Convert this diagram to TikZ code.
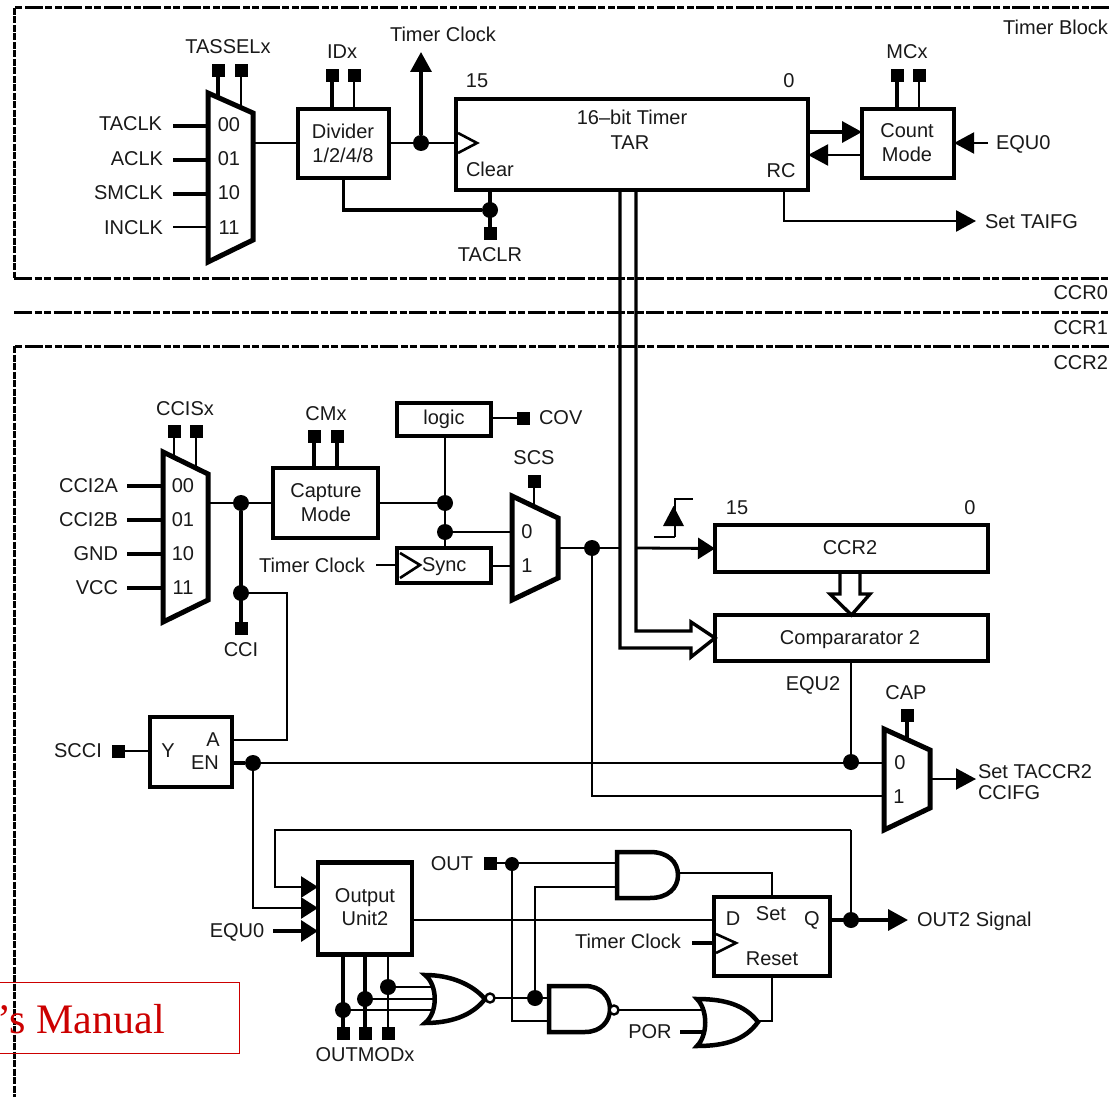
\documentclass[tikz,border=0pt]{standalone}
\usepackage{fontspec}
\setmainfont{Liberation Sans}
\newfontfamily\serifred{Liberation Serif}
\usetikzlibrary{arrows.meta,calc}
\definecolor{inkc}{RGB}{25,25,25}
\definecolor{redc}{RGB}{204,0,0}
\tikzset{
  block/.style={draw=black,line width=4.5pt,fill=white,rectangle,inner sep=0pt,outer sep=0pt},
  gatef/.style={draw=black,line width=4.5pt,fill=white,line join=miter},
  muxf/.style={draw=black,line width=5pt,fill=white,line join=miter},
  pinb/.style={fill=black,rectangle,inner sep=0pt,outer sep=0pt,minimum size=13pt},
  joint/.style={fill=black,circle,inner sep=0pt,outer sep=0pt,minimum size=16pt},
  jointsm/.style={fill=black,circle,inner sep=0pt,outer sep=0pt,minimum size=14pt},
  bub/.style={draw=black,line width=2.4pt,fill=white,circle,inner sep=0pt,outer sep=0pt,minimum size=9pt},
  wthin/.style={draw=black,line width=2pt},
  wmid/.style={draw=black,line width=2.8pt},
  wthick/.style={draw=black,line width=3.4pt},
  headf/.style={-{Triangle[length=20pt,width=21pt]}},
  heads/.style={-{Triangle[length=17pt,width=21pt]}},
  border/.style={draw=black,line width=3pt,dash pattern=on 18pt off 2.5pt on 7pt off 2.5pt on 7pt off 2.5pt},
  borderv/.style={draw=black,line width=3pt,dash pattern=on 7pt off 1.5pt},
  clk/.style={draw=black,line width=2.6pt,fill=white,line join=miter},
  txt/.style={text=inkc,inner sep=0pt,outer sep=0pt,font=\fontsize{20}{23}\selectfont},
  txo/.style={txt,text height=14pt,text depth=0pt},
}
\newcommand{\txc}[4]{\node[txo,anchor=center] (#1) at (#2,#3) {#4};}
\newcommand{\txl}[4]{\node[txo,anchor=west] (#1) at (#2,#3) {#4};}
\newcommand{\txr}[4]{\node[txo,anchor=east] (#1) at (#2,#3) {#4};}
\newcommand{\mkpin}[3]{\node[pinb] (#1) at (#2,#3) {};}
\newcommand{\mkdot}[3]{\node[joint] (#1) at (#2,#3) {};}
\newcommand{\mkdots}[3]{\node[jointsm] (#1) at (#2,#3) {};}
\newcommand{\mkbox}[5]{\node[block,minimum width=#4pt,minimum height=#5pt] (#1) at (#2,#3) {};}
\begin{document}
\begin{tikzpicture}[x=1pt,y=-1pt]
\useasboundingbox (0,0) rectangle (1109,1097);
% borders
\draw[border] (1109,8) -- (14,8);
\draw[borderv] (14,8) -- (14,278);
\draw[border] (14,278) -- (1109,278);
\draw[border] (14,312) -- (1109,312);
\draw[border] (1109,346) -- (14,346);
\draw[borderv] (14,346) -- (14,1097);
\txr{tblock}{1108}{28}{Timer Block}
\txr{ccr0}{1108}{292}{CCR0}
\txr{ccr1}{1108}{327}{CCR1}
\txr{ccr2l}{1108}{362}{CCR2}

% ---- timer block
\coordinate (m1a) at (208,93); \coordinate (m1b) at (253,113);
\coordinate (m1c) at (253,240); \coordinate (m1d) at (208,262);
\mkpin{ps1}{218}{71}\mkpin{ps2}{241}{71}
\draw[wthick] (ps1) -- (ps1 |- m1b);
\draw[wmid] (ps2) -- (ps2 |- m1b);
\draw[muxf] (m1a) -- (m1b) -- (m1c) -- (m1d) -- cycle;
\txc{tassel}{228}{47}{TASSELx}
\txr{taclk}{162}{124}{TACLK}
\txr{aclk}{163}{159}{ACLK}
\txr{smclk}{163}{193}{SMCLK}
\txr{inclk}{163}{227}{INCLK}
\coordinate (i1) at (173,126); \coordinate (i2) at (173,160); \coordinate (i3) at (173,194); \coordinate (i4) at (173,227);
\draw[wthick] (i1) -- (i1 -| m1a);
\draw[wthick] (i2) -- (i2 -| m1a);
\draw[wthick] (i3) -- (i3 -| m1a);
\draw[wmid] (i4) -- (i4 -| m1a);
\txc{m1t0}{229}{125}{00}\txc{m1t1}{229}{159}{01}\txc{m1t2}{229}{193}{10}\txc{m1t3}{229}{227}{11}

\mkbox{divb}{343.5}{143.5}{91}{69}
\node[txt,align=center,anchor=center] (divt) at (343,143) {Divider\\[1pt]1/2/4/8};
\txc{idx}{342}{52}{IDx}
\mkpin{pi1}{332}{76}\mkpin{pi2}{354}{76}
\draw[wthick] (pi1) -- (pi1 |- divb.north);
\draw[wthin] (pi2) -- (pi2 |- divb.north);
\coordinate (m1o) at (253,143);
\draw[wthin] (m1o) -- (divb.west |- m1o);

\mkbox{tar}{632}{144.5}{352}{91}
\txc{tarbit}{632}{118}{16--bit Timer}
\txc{tarn}{630}{143}{TAR}
\txc{t15}{477}{81}{15}\txc{t0}{789}{81}{0}
\txl{clear}{466}{170}{Clear}
\txc{rc}{781}{171}{RC}
\coordinate (tclk) at (421,52);
\mkdot{d1}{421}{143}
\draw[wthin] (divb.east |- d1) -- (tar.west |- d1);
\draw[wthick,headf] (d1) -- (tclk);
\txc{tclkt}{443}{35}{Timer Clock}
\draw[clk] (458,133) -- (477,143) -- (458,153);

\mkbox{cnt}{908}{143.5}{92}{69}
\node[txt,align=center,anchor=center] (cntt) at (907,143) {Count\\[1pt]Mode};
\txc{mcx}{907}{52}{MCx}
\mkpin{pm1}{897}{76}\mkpin{pm2}{919}{76}
\draw[wthick] (pm1) -- (pm1 |- cnt.north);
\draw[wthin] (pm2) -- (pm2 |- cnt.north);
\coordinate (arr1) at (808,132); \coordinate (arr2) at (808,155);
\draw[wthick,headf] (arr1) -- (cnt.west |- arr1);
\draw[wthin,headf] (cnt.west |- arr2) -- (arr2);
\txl{equ0a}{996}{143}{EQU0}
\coordinate (e0) at (988,143);
\draw[wthin,headf] (e0) -- (cnt.east |- e0);

\coordinate (rcbot) at (784,221);
\coordinate (taifgend) at (976,221);
\txl{taifg}{985}{221}{Set TAIFG}
\draw[wmid,headf] (rcbot |- tar.south) -- (rcbot) -- (taifgend);

\mkpin{pclr}{490}{233}
\txc{taclr}{490}{254}{TACLR}
\mkdot{dclr}{490}{210}
\draw[wthick] (tar.south -| pclr) -- (pclr);
\draw[wthick] (divb.south) |- (dclr);

% ---- bus
\mkbox{ccrb}{851.5}{548.5}{273}{47}
\mkbox{cmpb}{851.5}{638}{273}{46}
\txc{ccrt}{850}{547}{CCR2}
\txc{cmpt}{850}{637}{Compararator 2}
\txc{c15}{737}{507}{15}\txc{c0}{970}{507}{0}
\coordinate (bi1) at (636,631); \coordinate (bo1) at (620,648);
\draw[wthick,line join=miter] (bi1 |- tar.south) -- (bi1) -- (691,631) -- (691,622) -- (cmpb.west) -- (691,657) -- (691,648) -- (bo1) -- (bo1 |- tar.south);
\draw[wthick,line join=miter] (840,572) -- (840,594) -- (830,594) -- (cmpb.north) -- (870,594) -- (860,594) -- (860,572);

% ---- CCISx mux
\coordinate (m2a) at (163,452); \coordinate (m2b) at (208,474);
\coordinate (m2c) at (208,600); \coordinate (m2d) at (163,622);
\mkpin{pc1}{174}{431}\mkpin{pc2}{196}{431}
\draw[wthin] (pc1) -- (pc1 |- m2b);
\draw[wthin] (pc2) -- (pc2 |- m2b);
\draw[muxf] (m2a) -- (m2b) -- (m2c) -- (m2d) -- cycle;
\txc{ccis}{185}{408}{CCISx}
\txr{cci2a}{118}{485}{CCI2A}
\txr{cci2b}{118}{519}{CCI2B}
\txr{gnd}{118}{553}{GND}
\txr{vcc}{118}{587}{VCC}
\coordinate (j1) at (127,486); \coordinate (j2) at (127,520); \coordinate (j3) at (127,554); \coordinate (j4) at (127,588);
\draw[wthick] (j1) -- (j1 -| m2a);
\draw[wthick] (j2) -- (j2 -| m2a);
\draw[wthick] (j3) -- (j3 -| m2a);
\draw[wthick] (j4) -- (j4 -| m2a);
\txc{m2t0}{183}{485}{00}\txc{m2t1}{183}{519}{01}\txc{m2t2}{183}{553}{10}\txc{m2t3}{183}{587}{11}

\mkbox{capb}{325.5}{503}{105}{70}
\node[txt,align=center,anchor=center] (capt) at (326,503) {Capture\\[1pt]Mode};
\txc{cmx}{326}{413}{CMx}
\mkpin{pc3}{314}{436}\mkpin{pc4}{337}{436}
\draw[wthick] (pc3) -- (pc3 |- capb.north);
\draw[wthick] (pc4) -- (pc4 |- capb.north);
\mkdot{d2}{241}{503}
\mkdot{d3}{241}{593}
\mkpin{pcci}{241}{628}
\txc{ccit}{241}{649}{CCI}
\coordinate (m2o) at (208,503);
\draw[wthin] (m2o) -- (capb.west |- m2o);
\draw[wthick] (d2) -- (pcci);

\mkbox{logb}{444}{419.5}{94}{33}
\txc{logt}{444}{417}{logic}
\mkpin{pcov}{523}{418}
\txl{cov}{539}{417}{COV}
\draw[wthin] (logb.east |- pcov) -- (pcov);
\mkbox{synb}{444}{565.5}{94}{35}
\txl{synt}{422}{564}{Sync}
\draw[clk] (400,553) -- (420,565) -- (400,578);
\txc{tclkb}{312}{565}{Timer Clock}
\coordinate (tcin) at (376,565);
\draw[wthin] (tcin) -- (synb.west |- tcin);
\mkdot{d4}{445}{503}
\mkdot{d5}{445}{532}
\draw[wthin] (capb.east |- d4) -- (d4);
\draw[wthin] (logb.south -| d4) -- (synb.north -| d4);

% SCS mux
\coordinate (m3a) at (512,496); \coordinate (m3b) at (558,518);
\coordinate (m3c) at (558,578); \coordinate (m3d) at (512,600);
\mkpin{pscs}{534}{481}
\txc{scs}{534}{457}{SCS}
\draw[wthin] (pscs) -- (pscs |- m3b);
\draw[muxf] (m3a) -- (m3b) -- (m3c) -- (m3d) -- cycle;
\txc{m3t0}{527}{531}{0}\txc{m3t1}{527}{565}{1}
\draw[wthin] (d5) -- (d5 -| m3a);
\draw[wthin] (synb.east) -- (synb.east -| m3a);
\mkdot{d6}{592}{548}
\coordinate (m3o) at (558,548);
\coordinate (busl) at (619,548); \coordinate (busr) at (637,548);
\draw[wmid] (m3o) -- (busl);
\draw[wmid,heads] (busr) -- (ccrb.west);

% edge symbol
\coordinate (eg1) at (654,537); \coordinate (eg2) at (675,537);
\coordinate (eg3) at (675,499); \coordinate (eg4) at (693,499);
\draw[wmid,line join=miter] (eg1) -- (eg2);
\draw[wthin,line join=miter] (eg2) -- (eg3) -- (eg4);
\fill[black] (663,526) -- (684,526) -- (673.5,506) -- cycle;

% SCCI
\mkbox{yen}{191}{752}{82}{70}
\txc{yt}{168}{750}{Y}\txc{at}{213}{739}{A}\txc{ent}{205}{762}{EN}
\mkpin{pscci}{118}{751}
\txc{sccit}{78}{750}{SCCI}
\draw[wthin] (pscci) -- (yen.west |- pscci);
\coordinate (a1) at (287,740);
\draw[wthin] (d3) -| (a1) -- (yen.east |- a1);
\mkdot{d7}{253}{763}
\draw[wthick] (yen.east |- d7) -- (d7);

% CAP mux
\coordinate (m4a) at (884,729); \coordinate (m4b) at (930,750);
\coordinate (m4c) at (930,808); \coordinate (m4d) at (884,830);
\mkpin{pcap}{907}{715}
\txc{cap}{906}{692}{CAP}
\draw[wthick] (pcap) -- (pcap |- m4b);
\draw[muxf] (m4a) -- (m4b) -- (m4c) -- (m4d) -- cycle;
\txc{m4t0}{900}{762}{0}\txc{m4t1}{899}{796}{1}
\mkdot{d8}{851}{762}
\txc{equ2}{813}{683}{EQU2}
\draw[wthin] (cmpb.south -| d8) -- (d8);
\draw[wmid] (d7) -- (d7 -| m4a);
\coordinate (m4i) at (884,796);
\draw[wmid] (d6) |- (m4i);
\coordinate (m4o) at (930,779); \coordinate (m4e) at (976,779);
\draw[wthin,headf] (m4o) -- (m4e);
\node[txt,align=left,anchor=west] (setcc) at (978,782) {Set TACCR2\\[-2pt]CCIFG};

% Output unit
\mkbox{outb}{365}{908.5}{94}{92}
\node[txt,align=center,anchor=center] (outt) at (365,907) {Output\\Unit2};
\coordinate (fb1) at (275,830); \coordinate (fb2) at (275,887);
\coordinate (e1) at (253,908); \coordinate (e3) at (273,931);
\coordinate (fb3) at (851,830);
\mkdot{d9}{851}{920}
\draw[wmid,heads] (fb3) -- (fb1) -- (fb2) -- (outb.west |- fb2);
\draw[wthin] (d9) -- (fb3);
\draw[wmid,heads] (d7) -- (e1) -- (outb.west |- e1);
\txc{equ0b}{237}{930}{EQU0}
\draw[wthick,heads] (e3) -- (outb.west |- e3);

% Latch
\mkbox{latb}{772}{936.5}{116}{79}
\txc{dt}{733}{918}{D}\txc{sett}{771}{913}{Set}\txc{qt}{812}{918}{Q}\txc{rst}{772}{958}{Reset}
\draw[clk] (716,934) -- (736,943) -- (716,953);
\txc{tclkc}{628}{941}{Timer Clock}
\coordinate (tc2) at (692,943);
\draw[wthick] (tc2) -- (latb.west |- tc2);
\draw[wmid] (outb.east |- d9) -- (latb.west |- d9);
\coordinate (o2e) at (908,920);
\draw[wthick,headf] (latb.east |- d9) -- (o2e);
\txl{o2t}{917}{919}{OUT2 Signal}

% OUT and gates
\mkpin{pout}{490}{863}
\txc{outl}{452}{863}{OUT}
\mkdots{d10}{512}{864}
\draw[wthin] (pout) -- (617,863);
\coordinate (nin2) at (512,1021);
\mkdot{d11}{535}{998}
\draw[wmid] (d10) -- (nin2) -- (549,1021);
\coordinate (ain2) at (617,887);
\draw[wmid] (d11) |- (ain2);
\draw[gatef] (617,852) -- (650,852) .. controls (668,852) and (678,862) .. (678,875) .. controls (678,888) and (668,898) .. (650,898) -- (617,898) -- cycle;
\coordinate (aout) at (678,873);
\draw[wmid] (aout) -| (latb.north);
\draw[gatef] (549,986) -- (585,986) .. controls (601,986) and (610,997) .. (610,1009) .. controls (610,1021) and (601,1032) .. (585,1032) -- (549,1032) -- cycle;
\node[bub] (nandb) at (614,1010) {};
\coordinate (oin1) at (702,1010);
\draw[wthin] (nandb) -- (oin1);
\coordinate (oin2) at (680,1032);
\draw[wthick] (oin2) -- (703,1032);
\txc{por}{650}{1031}{POR}
\draw[gatef] (697,999) .. controls (708,1010) and (708,1035) .. (697,1046) .. controls (725,1046) and (745,1040) .. (758,1022) .. controls (745,1005) and (725,999) .. (697,999) -- cycle;
\coordinate (oout) at (758,1021);
\draw[wmid] (oout) -| (latb.south);

% NOR + outmod
\mkpin{po1}{343}{1033}\mkpin{po2}{365}{1033}\mkpin{po3}{388}{1033}
\txc{outmod}{365}{1054}{OUTMODx}
\draw[wthick] (po1 |- outb.south) -- (po1);
\draw[wthick] (po2 |- outb.south) -- (po2);
\draw[wthin] (po3 |- outb.south) -- (po3);
\mkdot{d12}{388}{987}\mkdot{d13}{365}{999}\mkdot{d14}{343}{1010}
\draw[wthin] (d12) -- (432,987);
\draw[wthin] (d13) -- (434,999);
\draw[wthin] (d14) -- (432,1010);
\draw[gatef] (425,975) .. controls (438,985) and (438,1013) .. (425,1023) .. controls (450,1023) and (472,1016) .. (485,999) .. controls (472,984) and (450,975) .. (425,975) -- cycle;
\node[bub] (norb) at (490,998) {};
\draw[wmid] (norb) -- (549,998);

% red caption box
\node[draw=none,anchor=east,inner sep=0pt,text=redc,font=\serifred\fontsize{42}{46}\selectfont] (manual) at (165,1019) {’s Manual};
\draw[redc,line width=1pt] (-1,982) rectangle (239,1053);
\end{tikzpicture}
\end{document}
